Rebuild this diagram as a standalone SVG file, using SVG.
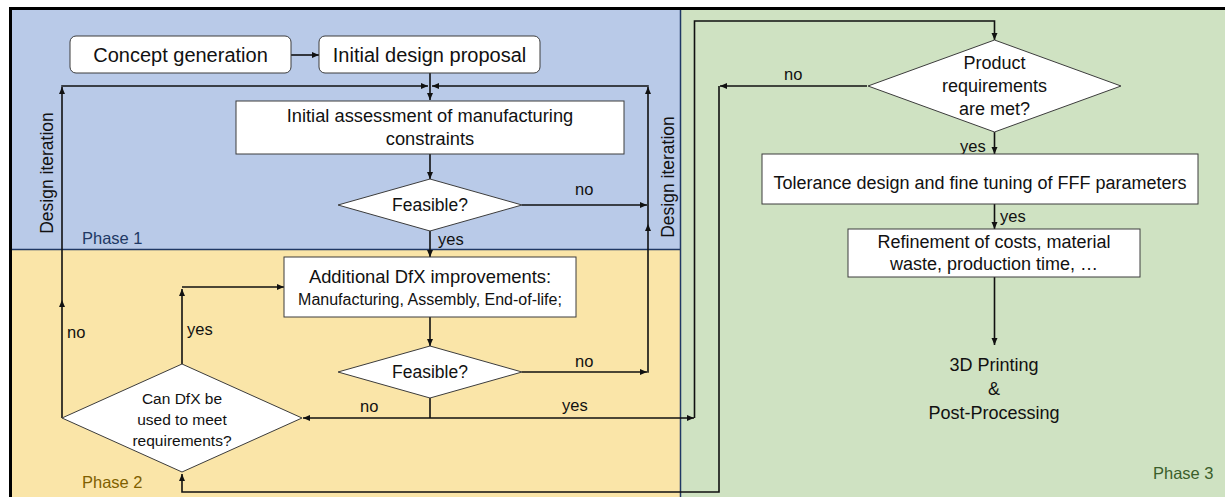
<svg xmlns="http://www.w3.org/2000/svg" width="1225" height="497" viewBox="0 0 1225 497">
  <defs>
    <style>
      .t { font-family: "Liberation Sans", Arial, sans-serif; fill: #111; }
      .box { fill: #fff; stroke: #3c3c3c; stroke-width: 1; }
      .conn { fill: none; stroke: #111; stroke-width: 1.6; }
      .lbl { font-size: 16.5px; }
      .ph { font-family: "Liberation Sans", Arial, sans-serif; font-size: 16.5px; }
    </style>
    <marker id="arr" markerUnits="userSpaceOnUse" markerWidth="8" markerHeight="7" refX="7" refY="3.5" orient="auto">
      <path d="M0,0.5 L7,3.5 L0,6.5 z" fill="#111"/>
    </marker>
  </defs>

  <rect width="1225" height="497" fill="#fff"/>

  <!-- phase panels -->
  <g id="panels">
    <rect x="12" y="10" width="668" height="239.5" fill="#b9cae8"/>
    <rect x="12" y="249.5" width="668" height="247.5" fill="#fae5a8"/>
    <rect x="680" y="10" width="545" height="487" fill="#cfe2c2"/>
    <path d="M12,249.5 H680 M680.5,10 V497" stroke="#203864" stroke-width="1.5" fill="none"/>
    <path d="M10.5,497 V8.5 H1225" stroke="#000" stroke-width="3" fill="none"/>
    <text class="ph" x="82" y="244" fill="#203864">Phase 1</text>
    <text class="ph" x="82" y="488" fill="#7f6000">Phase 2</text>
    <text class="ph" x="1153" y="479" fill="#3b5e2b">Phase 3</text>
  </g>

  <!-- connectors -->
  <g id="connectors">
    <line class="conn" x1="291" y1="55" x2="319" y2="55" marker-end="url(#arr)"/>
    <line class="conn" x1="430" y1="73" x2="430" y2="100" marker-end="url(#arr)"/>
    <!-- left design iteration loop -->
    <line class="conn" x1="62" y1="418" x2="62" y2="300" marker-end="url(#arr)"/>
    <line class="conn" x1="62" y1="300" x2="62" y2="87" marker-end="url(#arr)"/>
    <line class="conn" x1="61.2" y1="86" x2="428" y2="86" marker-end="url(#arr)"/>
    <!-- right design iteration loop -->
    <line class="conn" x1="522" y1="372" x2="647" y2="372" marker-end="url(#arr)"/>
    <line class="conn" x1="648" y1="372.8" x2="648" y2="224" marker-end="url(#arr)"/>
    <line class="conn" x1="648" y1="224" x2="648" y2="87" marker-end="url(#arr)"/>
    <line class="conn" x1="648.8" y1="86" x2="432" y2="86" marker-end="url(#arr)"/>
    <line class="conn" x1="522" y1="205" x2="647" y2="205" marker-end="url(#arr)"/>
    <!-- main flow phase 1/2 -->
    <line class="conn" x1="430" y1="154" x2="430" y2="179" marker-end="url(#arr)"/>
    <line class="conn" x1="430" y1="231" x2="430" y2="257" marker-end="url(#arr)"/>
    <line class="conn" x1="430" y1="317" x2="430" y2="346" marker-end="url(#arr)"/>
    <line class="conn" x1="430" y1="398" x2="430" y2="418"/>
    <line class="conn" x1="430" y1="418" x2="303" y2="418" marker-end="url(#arr)"/>
    <line class="conn" x1="430" y1="418" x2="694" y2="418" marker-end="url(#arr)"/>
    <path class="conn" d="M182,364 V289" marker-end="url(#arr)"/>
    <path class="conn" d="M182,287 H284" marker-end="url(#arr)"/>
    <!-- hand-over to phase 3 -->
    <path class="conn" d="M694.5,418 V21 H994.5 V40" marker-end="url(#arr)"/>
    <path class="conn" d="M867,86 H720" marker-end="url(#arr)"/>
    <path class="conn" d="M719,86 V492 H182 V474" marker-end="url(#arr)"/>
    <line class="conn" x1="994.5" y1="132" x2="994.5" y2="154" marker-end="url(#arr)"/>
    <line class="conn" x1="994.5" y1="204" x2="994.5" y2="229" marker-end="url(#arr)"/>
    <line class="conn" x1="994.5" y1="277" x2="994.5" y2="345" marker-end="url(#arr)"/>

    <!-- connector labels -->
    <text class="t lbl" x="575" y="195">no</text>
    <text class="t lbl" x="438" y="245">yes</text>
    <text class="t lbl" x="575" y="367">no</text>
    <text class="t lbl" x="360" y="412">no</text>
    <text class="t lbl" x="562" y="411">yes</text>
    <text class="t lbl" x="67" y="338">no</text>
    <text class="t lbl" x="187" y="335">yes</text>
    <text class="t lbl" x="784" y="80">no</text>
    <text class="t lbl" x="960" y="152">yes</text>
    <text class="t lbl" x="1000" y="222">yes</text>
    <text class="t" font-size="17.5" text-anchor="middle" transform="translate(53,173) rotate(-90)">Design iteration</text>
    <text class="t" font-size="17.5" text-anchor="middle" transform="translate(673.5,177) rotate(-90)">Design iteration</text>
  </g>

  <!-- nodes -->
  <g id="concept-generation">
    <rect class="box" x="70" y="36" width="221" height="37" rx="6"/>
    <text class="t" font-size="20" x="180.5" y="62" text-anchor="middle">Concept generation</text>
  </g>
  <g id="initial-design-proposal">
    <rect class="box" x="319" y="36" width="221" height="37" rx="6"/>
    <text class="t" font-size="20" x="429.5" y="62" text-anchor="middle">Initial design proposal</text>
  </g>
  <g id="initial-assessment">
    <rect class="box" x="236" y="101" width="388" height="53"/>
    <text class="t" font-size="18.3" x="430" y="122" text-anchor="middle">Initial assessment of manufacturing</text>
    <text class="t" font-size="18.3" x="430" y="145" text-anchor="middle">constraints</text>
  </g>
  <g id="feasible-1">
    <polygon class="box" points="430,179 522,205 430,231 338,205"/>
    <text class="t" font-size="17.5" x="430" y="211" text-anchor="middle">Feasible?</text>
  </g>
  <g id="dfx-improvements">
    <rect class="box" x="284" y="257" width="292" height="60"/>
    <text class="t" font-size="18.4" x="430" y="283" text-anchor="middle">Additional DfX improvements:</text>
    <text class="t" font-size="16" x="430" y="305" text-anchor="middle">Manufacturing, Assembly, End-of-life;</text>
  </g>
  <g id="feasible-2">
    <polygon class="box" points="430,346 522,372 430,398 338,372"/>
    <text class="t" font-size="17.5" x="430" y="378" text-anchor="middle">Feasible?</text>
  </g>
  <g id="can-dfx">
    <polygon class="box" points="182,364 302,418 182,472 62,418"/>
    <text class="t" font-size="15.5" x="182" y="404" text-anchor="middle">Can DfX be</text>
    <text class="t" font-size="15.5" x="182" y="425" text-anchor="middle">used to meet</text>
    <text class="t" font-size="15.5" x="182" y="446" text-anchor="middle">requirements?</text>
  </g>
  <g id="product-requirements">
    <polygon class="box" points="994.5,40 1121,86 994.5,132 868,86"/>
    <text class="t" font-size="18" x="994.5" y="69" text-anchor="middle">Product</text>
    <text class="t" font-size="18" x="994.5" y="92" text-anchor="middle">requirements</text>
    <text class="t" font-size="18" x="994.5" y="115" text-anchor="middle">are met?</text>
  </g>
  <g id="tolerance-design">
    <rect class="box" x="762" y="154" width="436" height="50"/>
    <text class="t" font-size="18" x="980" y="189" text-anchor="middle">Tolerance design and fine tuning of FFF parameters</text>
  </g>
  <g id="refinement">
    <rect class="box" x="848" y="229" width="292" height="48"/>
    <text class="t" font-size="18" x="994" y="248" text-anchor="middle">Refinement of costs, material</text>
    <text class="t" font-size="18" x="994" y="270" text-anchor="middle">waste, production time, …</text>
  </g>
  <g id="printing">
    <text class="t" font-size="18" x="994" y="371" text-anchor="middle">3D Printing</text>
    <text class="t" font-size="18" x="994" y="395" text-anchor="middle">&amp;</text>
    <text class="t" font-size="18" x="994" y="419" text-anchor="middle">Post-Processing</text>
  </g>
</svg>
